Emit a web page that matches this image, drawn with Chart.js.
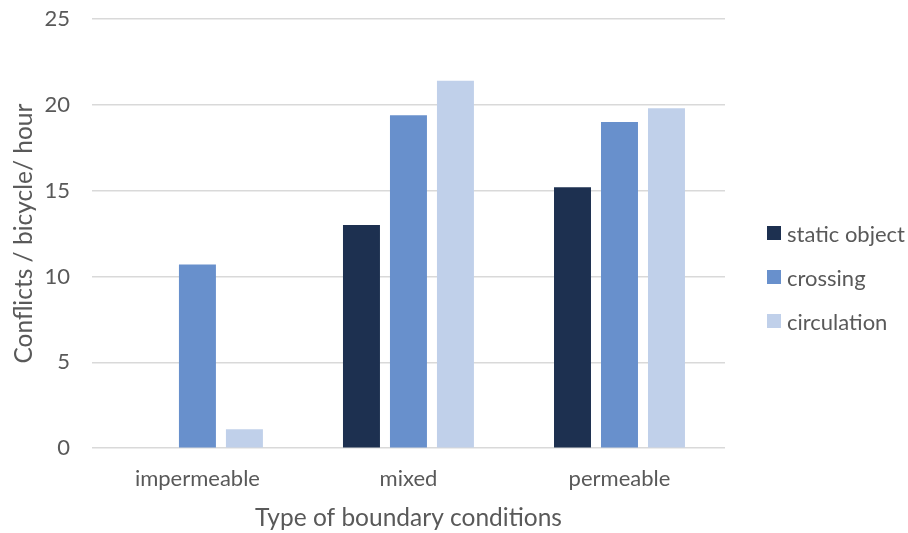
<!DOCTYPE html>
<html>
<head>
<meta charset="utf-8">
<script src="https://cdn.jsdelivr.net/npm/chart.js@4/dist/chart.umd.min.js"></script>
<style>
  html, body { margin: 0; padding: 0; background: #ffffff; }
  #wrap { position: relative; width: 908px; height: 533px; }
  #chart { position: absolute; left: 0; top: 0; }
  #legend { position: absolute; left: 767px; top: 219px; font-family: Lato, "Open Sans", sans-serif; font-size: 22px; color: #595959; }
  #legend div { display: flex; align-items: center; height: 28px; margin-bottom: 16px; white-space: nowrap; }
  #legend span.box { display: inline-block; width: 14px; height: 14px; margin-right: 6px; }
</style>
</head>
<body>
<div id="wrap">
  <canvas id="chart" width="908" height="533"></canvas>
  <div id="legend"></div>
</div>
<script>
// Conflict rates per boundary condition type
const categories = ['impermeable', 'mixed', 'permeable'];
const seriesNames = ['static object', 'crossing', 'circulation'];
const staticObject = [0, 13.0, 15.2];
const crossing = [10.7, 19.4, 19.0];
const circulation = [1.1, 21.4, 19.8];
const yTicks = [0, 5, 10, 15, 20, 25];

const colors = ['#1d3050', '#6890cc', '#c0d0ea'];
const values = [staticObject, crossing, circulation];

const fontFamily = 'Lato, "Open Sans", sans-serif';
const textColor = '#595959';

const chart = new Chart(document.getElementById('chart'), {
  type: 'bar',
  data: {
    labels: categories,
    datasets: seriesNames.map((name, i) => ({
      label: name,
      data: values[i],
      backgroundColor: colors[i],
      borderWidth: 0,
      categoryPercentage: 0.668,
      barPercentage: 0.787
    }))
  },
  options: {
    responsive: false,
    animation: false,
    layout: { padding: { left: 9, right: 183, top: 0, bottom: 0 } },
    plugins: {
      legend: { display: false },
      tooltip: { enabled: false }
    },
    scales: {
      x: {
        grid: { display: false, drawTicks: false },
        border: { display: false },
        ticks: { color: textColor, font: { family: fontFamily, size: 22 }, padding: 18 },
        title: { display: true, text: 'Type of boundary conditions', color: textColor, font: { family: fontFamily, size: 24.5 }, padding: { top: -7, bottom: 0 } }
      },
      y: {
        min: 0,
        max: 25,
        afterBuildTicks: (axis) => { axis.ticks = yTicks.map(v => ({ value: v })); },
        // keep the label gap horizontal only, not extra room above/below the plot
        afterFit: (axis) => { axis.paddingTop = 19; axis.paddingBottom = 0; },
        grid: { color: '#d9d9d9', lineWidth: 1.5, drawTicks: false },
        border: { display: false },
        ticks: { color: textColor, font: { family: fontFamily, size: 22 }, padding: 22 },
        title: { display: true, text: 'Conflicts / bicycle/ hour', color: textColor, font: { family: fontFamily, size: 24.5 }, padding: { top: 0, bottom: -16 } }
      }
    }
  }
});

// Legend entries beside the plot
const legend = document.getElementById('legend');
seriesNames.forEach((name, i) => {
  const row = document.createElement('div');
  const box = document.createElement('span');
  box.className = 'box';
  box.style.background = colors[i];
  row.appendChild(box);
  row.appendChild(document.createTextNode(name));
  legend.appendChild(row);
});
</script>
</body>
</html>
